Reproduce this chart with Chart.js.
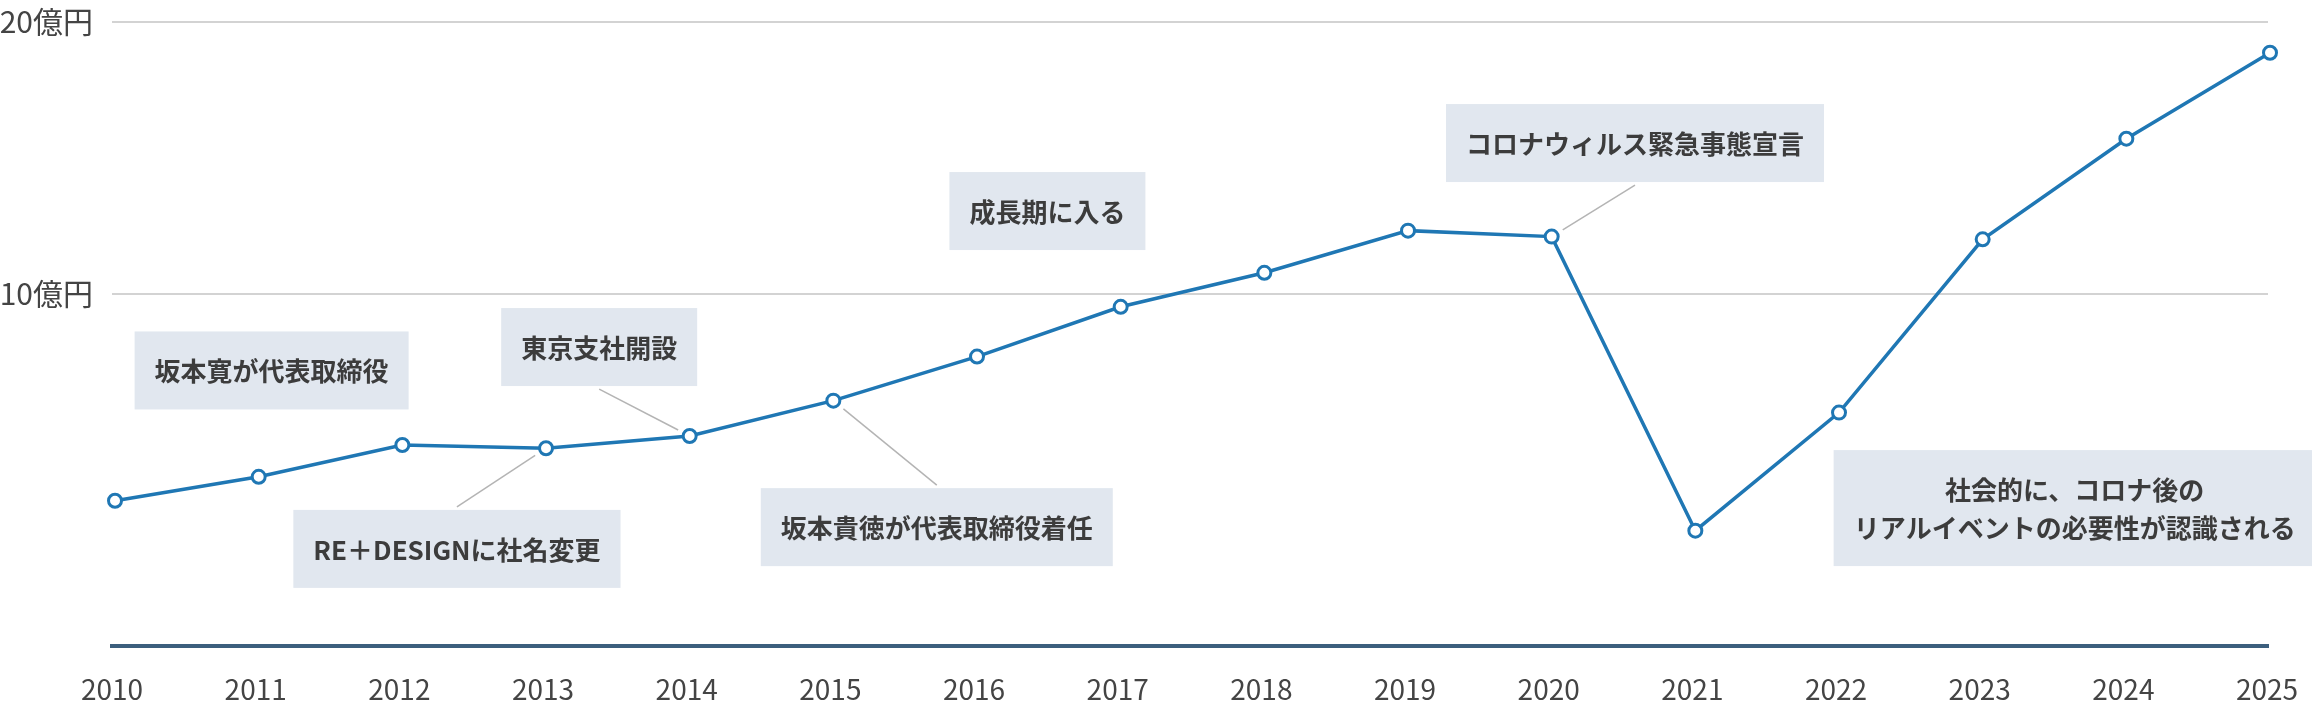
<!DOCTYPE html>
<html lang="ja">
<head>
<meta charset="utf-8">
<script src="https://cdn.jsdelivr.net/npm/chart.js@4.4.0/dist/chart.umd.min.js"></script>
<style>
  html, body { margin: 0; padding: 0; background: #fff; }
  #wrap { width: 2312px; height: 708px; }
</style>
</head>
<body>
<div id="wrap"><canvas id="lineChart"></canvas></div>
<script>
// 売上推移（億円）
const years = [2010, 2011, 2012, 2013, 2014, 2015, 2016, 2017, 2018, 2019, 2020, 2021, 2022, 2023, 2024, 2025];
const sales = [2.4, 3.28, 4.45, 4.33, 4.78, 6.08, 7.7, 9.53, 10.78, 12.33, 12.11, 1.3, 5.64, 12.01, 15.71, 18.87];
const yTicks = [10, 20];
const yUnit = '億円';

// 注記（位置は軸の値で指定、point = 引き出し線の先のデータ番号）
const notes = [
  { lines: ['坂本寛が代表取締役'], x: 2011.09, y: 7.19 },
  { lines: ['東京支社開設'], x: 2013.37, y: 8.05, point: 4 },
  { lines: ['RE＋DESIGNに社名変更'], x: 2012.38, y: 0.63, point: 3 },
  { lines: ['坂本貴徳が代表取締役着任'], x: 2015.72, y: 1.43, point: 5 },
  { lines: ['成長期に入る'], x: 2016.49, y: 13.05 },
  { lines: ['コロナウィルス緊急事態宣言'], x: 2020.58, y: 15.55, point: 10 },
  { lines: ['社会的に、コロナ後の', 'リアルイベントの必要性が認識される'], x: 2023.64, y: 2.13 }
];

const FONT = '"Noto Sans CJK JP", "Noto Sans", sans-serif';

const notesPlugin = {
  id: 'notes',
  afterDatasetsDraw(chart) {
    const { ctx, scales: { x, y } } = chart;
    const pts = chart.getDatasetMeta(0).data;
    ctx.save();
    ctx.font = 'bold 26px ' + FONT;
    ctx.textAlign = 'center';
    ctx.textBaseline = 'middle';
    notes.forEach(n => {
      const cx = x.getPixelForValue(n.x);
      const cy = y.getPixelForValue(n.y);
      const tw = Math.max(...n.lines.map(l => ctx.measureText(l).width));
      const w = tw + 40;
      const h = n.lines.length * 38 + 40;

      if (n.point != null) {
        const p = pts[n.point];
        const below = p.y > cy;
        const sx = cx, sy = below ? cy + h / 2 + 3 : cy - h / 2 - 3;
        const dx = p.x - sx, dy = p.y - sy;
        const len = Math.hypot(dx, dy);
        const ex = p.x - dx / len * 13, ey = p.y - dy / len * 13;
        ctx.strokeStyle = '#b4b4b4';
        ctx.lineWidth = 1.5;
        ctx.beginPath();
        ctx.moveTo(sx, sy);
        ctx.lineTo(ex, ey);
        ctx.stroke();
      }

      ctx.fillStyle = '#e1e7ef';
      ctx.fillRect(cx - w / 2, cy - h / 2, w, h);
      ctx.fillStyle = '#3c3c3c';
      n.lines.forEach((l, i) => {
        ctx.fillText(l, cx, cy + (i - (n.lines.length - 1) / 2) * 38 + 1);
      });
    });
    ctx.restore();
  }
};

const ctx = document.getElementById('lineChart').getContext('2d');
new Chart(ctx, {
  type: 'line',
  data: {
    datasets: [{
      data: years.map((yr, i) => ({ x: yr, y: sales[i] })),
      borderColor: '#1f77b4',
      borderWidth: 3.5,
      pointRadius: 6.5,
      pointBorderWidth: 3,
      pointBackgroundColor: '#fff',
      pointBorderColor: '#1f77b4',
      tension: 0,
      clip: false
    }]
  },
  options: {
    responsive: true,
    maintainAspectRatio: false,
    animation: false,
    layout: { padding: { top: 22, right: 44, bottom: 0, left: 0 } },
    plugins: { legend: { display: false }, tooltip: { enabled: false } },
    scales: {
      x: {
        type: 'linear',
        min: 2009.979,
        max: 2024.986,
        afterBuildTicks: s => { s.ticks = years.map(v => ({ value: v })); },
        afterFit: s => { s.height = 62; s.paddingLeft = 0; s.paddingRight = 0; },
        grid: { display: false, drawTicks: false },
        border: { display: true, color: '#3c5f7d', width: 4 },
        ticks: {
          callback: v => String(v),
          autoSkip: false,
          maxRotation: 0,
          labelOffset: -3,
          padding: 27,
          color: '#444',
          font: { family: FONT, size: 28 }
        }
      },
      y: {
        min: -2.94,
        max: 20,
        afterBuildTicks: s => { s.ticks = yTicks.map(v => ({ value: v })); },
        afterFit: s => { s.width = 112; s.paddingTop = 0; s.paddingBottom = 0; },
        grid: { color: '#d3d3d3', lineWidth: 2, drawTicks: false },
        border: { display: false },
        ticks: {
          callback: v => v + yUnit,
          padding: 19,
          color: '#444',
          font: { family: FONT, size: 30 }
        }
      }
    }
  },
  plugins: [notesPlugin]
});
</script>
</body>
</html>
